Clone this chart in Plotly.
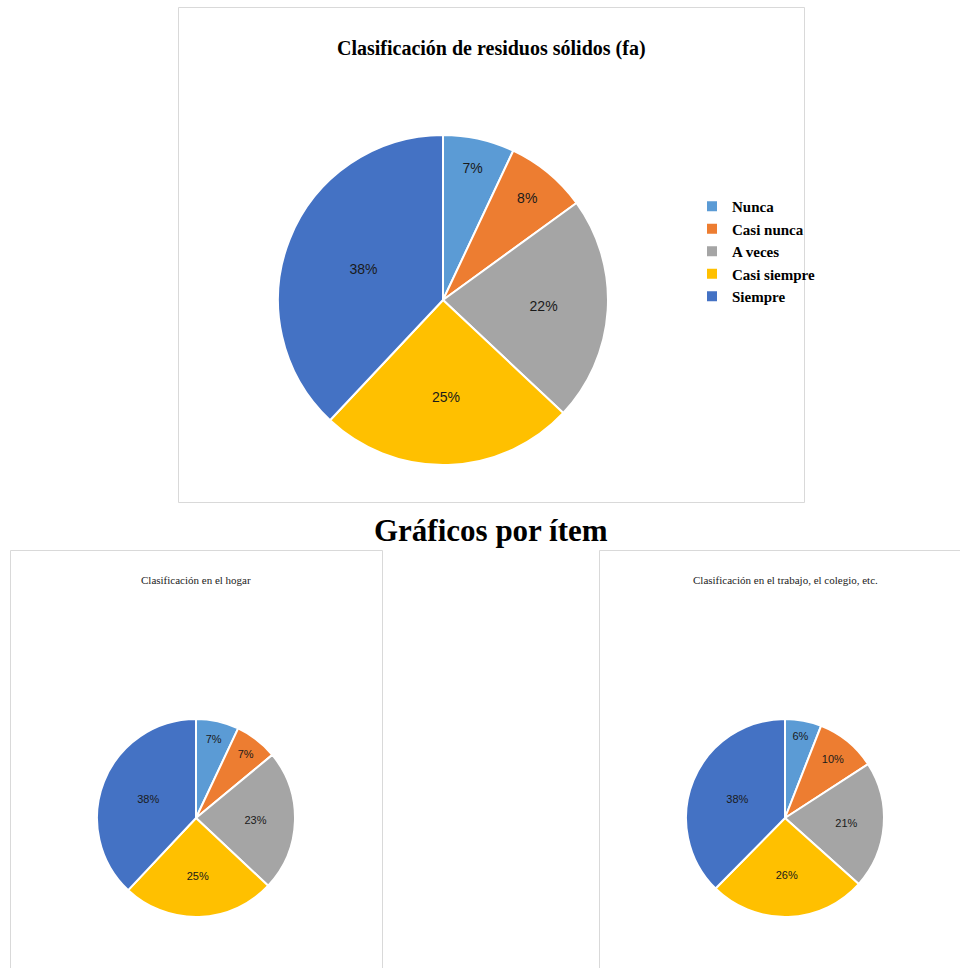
import plotly.graph_objects as go

categories = ["Nunca", "Casi nunca", "A veces", "Casi siempre", "Siempre"]
colors = ["#5B9BD5", "#ED7D31", "#A5A5A5", "#FFC000", "#4472C4"]

main_title = "Clasificación de residuos sólidos (fa)"
main_values = [7, 8, 22, 25, 38]

section_title = "Gráficos por ítem"

hogar_title = "Clasificación en el hogar"
hogar_values = [7, 7, 23, 25, 38]

trabajo_title = "Clasificación en el trabajo, el colegio, etc."
trabajo_values = [6, 10, 21, 26, 38]

W, H = 960, 968


def px_x(v):
    return v / W


def px_y(v):
    return 1 - v / H


def pie(values, cx, cy, d, fsize, showlegend):
    r = d / 2
    return go.Pie(
        labels=categories,
        values=values,
        sort=False,
        direction="clockwise",
        rotation=0,
        marker=dict(colors=colors, line=dict(color="white", width=2)),
        texttemplate="%{percent:.0%}",
        textposition="inside",
        insidetextorientation="horizontal",
        textfont=dict(family="Liberation Sans", size=fsize, color="#1a1a1a"),
        hoverinfo="label+percent",
        showlegend=showlegend,
        domain=dict(x=[px_x(cx - r), px_x(cx + r)], y=[px_y(cy + r), px_y(cy - r)]),
    )


fig = go.Figure()
fig.add_trace(pie(main_values, 443, 300, 330, 14, True))
fig.add_trace(pie(hogar_values, 196, 818, 198, 11, False))
fig.add_trace(pie(trabajo_values, 785, 818, 198, 11, False))

box = dict(type="rect", xref="paper", yref="paper", line=dict(color="#D9D9D9", width=1), fillcolor="rgba(0,0,0,0)", layer="below")
shapes = [
    dict(box, x0=px_x(178.5), x1=px_x(804.5), y0=px_y(502.5), y1=px_y(7.5)),
    dict(box, x0=px_x(10.5), x1=px_x(382.5), y0=px_y(975), y1=px_y(550.5)),
    dict(box, x0=px_x(599.5), x1=px_x(975), y0=px_y(975), y1=px_y(550.5)),
]

serif = "Liberation Serif"
annotations = [
    dict(text="<b>" + main_title + "</b>", x=px_x(491), y=px_y(48), xref="paper", yref="paper",
         showarrow=False, xanchor="center", yanchor="middle", font=dict(family=serif, size=20, color="black")),
    dict(text="<b>" + section_title + "</b>", x=px_x(491), y=px_y(530), xref="paper", yref="paper",
         showarrow=False, xanchor="center", yanchor="middle", font=dict(family=serif, size=31, color="black")),
    dict(text=hogar_title, x=px_x(196), y=px_y(580), xref="paper", yref="paper",
         showarrow=False, xanchor="center", yanchor="middle", font=dict(family=serif, size=11, color="#222")),
    dict(text=trabajo_title, x=px_x(785), y=px_y(580), xref="paper", yref="paper",
         showarrow=False, xanchor="center", yanchor="middle", font=dict(family=serif, size=11, color="#222")),
]

fig.update_layout(
    width=W, height=H, autosize=False,
    margin=dict(l=0, r=0, t=0, b=0),
    paper_bgcolor="white", plot_bgcolor="white",
    shapes=shapes, annotations=annotations,
    legend=dict(x=px_x(692), y=px_y(190), xanchor="left", yanchor="top",
                font=dict(family=serif, size=15, color="black", weight="bold"),
                bgcolor="rgba(0,0,0,0)", itemwidth=30),
)

fig.write_html("out.html")
